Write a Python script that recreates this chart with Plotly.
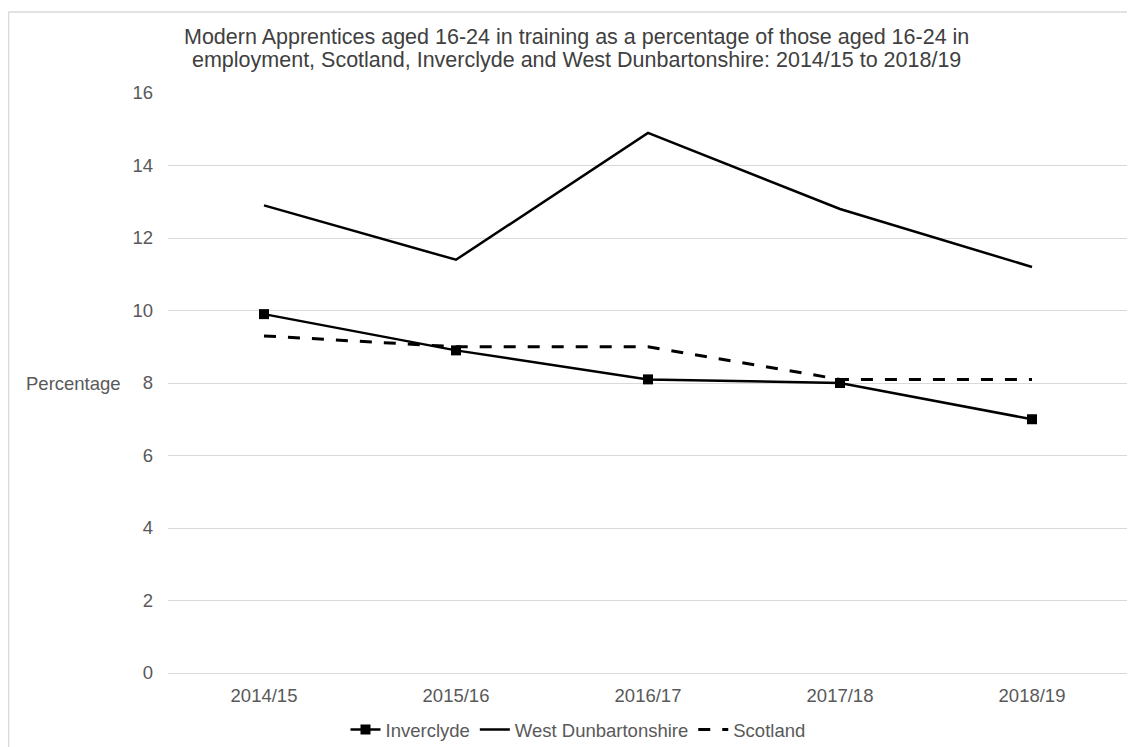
import plotly.graph_objects as go

years = ["2014/15", "2015/16", "2016/17", "2017/18", "2018/19"]
inverclyde = [9.9, 8.9, 8.1, 8.0, 7.0]
west_dunbartonshire = [12.9, 11.4, 14.9, 12.8, 11.2]
scotland = [9.3, 9.0, 9.0, 8.1, 8.1]

title_lines = ["Modern Apprentices aged 16-24 in training as a percentage of those aged 16-24 in",
               "employment, Scotland, Inverclyde and West Dunbartonshire: 2014/15 to 2018/19"]

# page has an 8px body margin, so everything is placed 8px up/left of the target
OFF = 8
W, H = 1135, 747
L, T = 168 - OFF, 93 - OFF
R, B = W - (1128 - OFF), H - (673 - OFF)
pw, ph = W - L - R, H - T - B

def px_x(v):
    return (v - OFF - L) / pw

def px_y(v):
    return (H - B - (v - OFF)) / ph

font = "Liberation Sans, Arial, sans-serif"
grey = "#595959"

fig = go.Figure()
fig.add_trace(go.Scatter(x=years, y=inverclyde, name="Inverclyde", mode="lines+markers",
                         line=dict(color="black", width=2.5),
                         marker=dict(symbol="square", size=10, color="black")))
fig.add_trace(go.Scatter(x=years, y=west_dunbartonshire, name="West Dunbartonshire", mode="lines",
                         line=dict(color="black", width=2.5)))
fig.add_trace(go.Scatter(x=years, y=scotland, name="Scotland", mode="lines",
                         line=dict(color="black", width=3, dash="12px,12px")))

fig.update_layout(
    width=W, height=H,
    margin=dict(l=L, r=R, t=T, b=B, autoexpand=False),
    paper_bgcolor="white", plot_bgcolor="white",
    font=dict(family=font, size=18.5, color=grey),
    showlegend=True,
    legend=dict(orientation="h", xref="container", x=(578 - OFF) / W, xanchor="center",
                yref="container", y=1 - (730 - OFF) / H, yanchor="middle",
                font=dict(family=font, size=18.5, color=grey), itemwidth=30),
    hovermode=False,
)
fig.update_xaxes(type="category", range=[-0.5, 4.5], showgrid=False, zeroline=False,
                 showline=False, ticks="", ticklabelstandoff=9, automargin=False)
fig.update_yaxes(range=[0, 16], dtick=2, showgrid=True, gridcolor="#d9d9d9", gridwidth=1,
                 zeroline=True, zerolinecolor="#d9d9d9", zerolinewidth=1,
                 showline=False, ticks="", ticklabelstandoff=14, automargin=False)

# title as two lines, tighter spacing than plotly's <br>
for line, yc in zip(title_lines, [37, 60]):
    fig.add_annotation(text=line, xref="paper", yref="paper", x=px_x(576), y=px_y(yc),
                       xanchor="center", yanchor="middle", showarrow=False,
                       font=dict(family=font, size=21.5, color="#404040"))

fig.add_annotation(text="Percentage", xref="paper", yref="paper", x=px_x(123), y=0.5,
                   xanchor="right", yanchor="middle", showarrow=False,
                   font=dict(family=font, size=18.5, color=grey))

# thin frame around chart (left and top edges visible)
fig.add_shape(type="line", xref="paper", yref="paper", x0=px_x(8.5), x1=px_x(8.5),
              y0=px_y(H + 20), y1=px_y(12), line=dict(color="#d9d9d9", width=1.5))
fig.add_shape(type="line", xref="paper", yref="paper", x0=px_x(8.5), x1=px_x(W + 20),
              y0=px_y(12), y1=px_y(12), line=dict(color="#d9d9d9", width=1.5))

fig.write_html("out.html")
